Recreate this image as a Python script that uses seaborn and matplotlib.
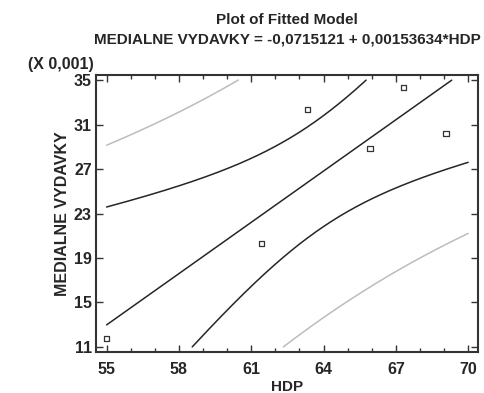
import numpy as np
import matplotlib
matplotlib.use("Agg")
import matplotlib.pyplot as plt
import seaborn as sns
from matplotlib.ticker import MultipleLocator, FixedLocator

# Observations (HDP vs. MEDIALNE VYDAVKY)
hdp = [55.0, 61.43, 63.34, 65.93, 67.31, 69.08]
vydavky = [0.01178, 0.02029, 0.03233, 0.02886, 0.03431, 0.03018]

# Fitted model coefficients
intercept = -0.0715121
slope = 0.00153634
t_crit = 2.776445  # Student t, 95 %, n-2 = 4 df

x_ticks = [55, 58, 61, 64, 67, 70]
y_ticks = [11, 15, 19, 23, 27, 31, 35]
y_scale = 1000.0  # axis shows values in units of 0,001

sns.set_theme(style="ticks")
plt.rcParams["font.family"] = ["Liberation Sans", "DejaVu Sans"]
plt.rcParams["font.weight"] = "bold"

x = np.array(hdp)
y = np.array(vydavky)
n = len(x)
resid = y - (intercept + slope * x)
s = np.sqrt(np.sum(resid ** 2) / (n - 2))
xm = x.mean()
sxx = np.sum((x - xm) ** 2)

grid = np.linspace(55, 70, 1500)
fit = intercept + slope * grid
se_mean = s * np.sqrt(1.0 / n + (grid - xm) ** 2 / sxx)
se_pred = s * np.sqrt(1.0 + 1.0 / n + (grid - xm) ** 2 / sxx)

ylo, yhi = y_ticks[0], y_ticks[-1]


def visible(vals):
    v = vals * y_scale
    return np.where((v >= ylo) & (v <= yhi), v, np.nan)


fig = plt.figure(figsize=(4.84, 3.93), dpi=100)
ax = fig.add_axes([96 / 484, 1 - 352 / 393, (478 - 96) / 484, (352 - 75) / 393])

dark = "#262626"
light = "#bcbcbc"
curves = [
    (fit + t_crit * se_pred, light),
    (fit - t_crit * se_pred, light),
    (fit + t_crit * se_mean, dark),
    (fit - t_crit * se_mean, dark),
    (fit, dark),
]
for vals, col in curves:
    v = visible(vals)
    m = ~np.isnan(v)
    sns.lineplot(x=grid[m], y=v[m], ax=ax, color=col, linewidth=1.1,
                 estimator=None, sort=False)

sns.scatterplot(x=x, y=y * y_scale, ax=ax, marker="s", s=16,
                facecolor="none", edgecolor="#333333", linewidth=0.9)

ax.set_xlim(54.56, 70.41)
ax.set_ylim(10.55, 35.45)
ax.xaxis.set_major_locator(FixedLocator(x_ticks))
ax.xaxis.set_minor_locator(MultipleLocator(1))
ax.yaxis.set_major_locator(FixedLocator(y_ticks))
ax.tick_params(which="both", direction="in", top=True, right=True,
               color="#333333", width=1.0, labelsize=11.5)
ax.tick_params(axis="x", which="major", pad=7)
ax.tick_params(axis="y", which="major", pad=3)
ax.tick_params(which="major", length=5)
ax.tick_params(which="minor", length=3)
for lab in ax.get_xticklabels() + ax.get_yticklabels():
    lab.set_fontweight("bold")
for sp in ax.spines.values():
    sp.set_visible(True)
    sp.set_linewidth(1.5)
    sp.set_color("#333333")

ax.set_xlabel("HDP", fontsize=11, fontweight="bold")
ax.xaxis.set_label_coords(0.5, -0.100)
ax.set_ylabel("MEDIALNE VYDAVKY", fontsize=11.5, fontweight="bold", labelpad=3)

fig.text(287 / 484, 1 - 20 / 393, "Plot of Fitted Model", ha="center",
         va="center", fontsize=11, fontweight="bold")
fig.text(287 / 484, 1 - 40 / 393,
         "MEDIALNE VYDAVKY = -0,0715121 + 0,00153634*HDP", ha="center",
         va="center", fontsize=11, fontweight="bold")
fig.text(94 / 484, 1 - 65 / 393, "(X 0,001)", ha="right", va="center",
         fontsize=11.5, fontweight="bold")

fig.savefig("out.png", dpi=100)
